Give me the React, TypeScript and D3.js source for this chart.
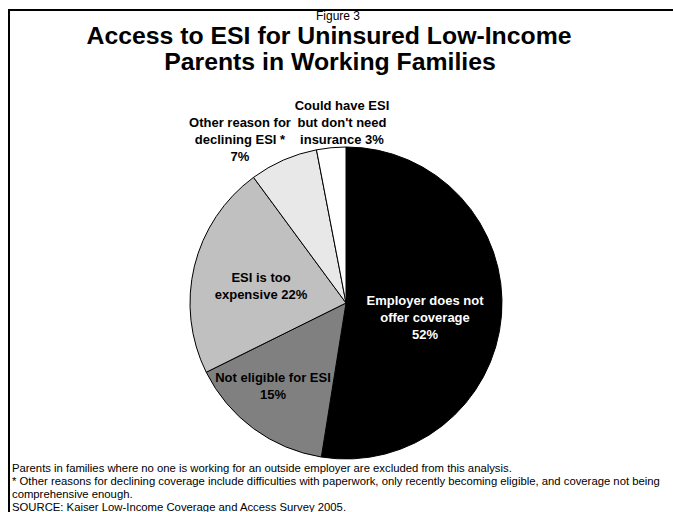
import React from "react";
import * as d3 from "d3";

const categories = [
  "Employer does not offer coverage",
  "Not eligible for ESI",
  "ESI is too expensive",
  "Other reason for declining ESI *",
  "Could have ESI but don't need insurance",
];
const values = [52, 15, 22, 7, 3];
const fills = ["#000000", "#808080", "#c0c0c0", "#e8e8e8", "#ffffff"];
const labelLines = [
  ["Employer does not", "offer coverage", "52%"],
  ["Not eligible for ESI", "15%"],
  ["ESI is too", "expensive 22%"],
  ["Other reason for", "declining ESI *", "7%"],
  ["Could have ESI", "but don't need", "insurance 3%"],
];
const labelColors = ["#ffffff", "#000000", "#000000", "#000000", "#000000"];
// label anchor (center x, first line center y) in px
const labelPos: [number, number][] = [
  [425, 300],
  [273, 377],
  [261, 277],
  [240, 122],
  [342, 105],
];
const footnotes = [
  "Parents in families where no one is working for an outside employer are excluded from this analysis.",
  "* Other reasons for declining coverage include difficulties with paperwork, only recently becoming eligible, and coverage not being",
  "comprehensive enough.",
  "SOURCE: Kaiser Low-Income Coverage and Access Survey 2005.",
];

const W = 673;
const H = 512;
const FONT = "Arial, 'Liberation Sans', Helvetica, sans-serif";

export default function App() {
  const cx = 346;
  const cy = 303;
  const r = 156;
  const pie = d3
    .pie<number>()
    .sort(null)
    .value((d) => d);
  const arcs = pie(values);
  const arc = d3.arc<d3.PieArcDatum<number>>().innerRadius(0).outerRadius(r);
  const lh = 17;

  return (
    <svg
      width={W}
      height={H}
      style={{ position: "absolute", left: 0, top: 0, background: "#fff" }}
      fontFamily={FONT}
    >
      <rect x={0} y={0} width={W} height={H} fill="#fff" />
      <rect x={9} y={10} width={W + 20} height={H + 20} fill="none" stroke="#000" strokeWidth={2} />
      <text x={338} y={20} textAnchor="middle" fontSize={12}>
        Figure 3
      </text>
      <text x={329} y={44} textAnchor="middle" fontSize={24.8} fontWeight="bold">
        Access to ESI for Uninsured Low-Income
      </text>
      <text x={330} y={70} textAnchor="middle" fontSize={24.8} fontWeight="bold">
        Parents in Working Families
      </text>
      <g transform={`translate(${cx},${cy})`}>
        {arcs.map((a, i) => (
          <path key={categories[i]} d={arc(a) || ""} fill={fills[i]} stroke="#000" strokeWidth={1} />
        ))}
      </g>
      {labelLines.map((lines, i) => (
        <text
          key={"l" + i}
          textAnchor="middle"
          fontSize={13}
          fontWeight="bold"
          fill={labelColors[i]}
        >
          {lines.map((ln, j) => (
            <tspan key={j} x={labelPos[i][0]} y={labelPos[i][1] + j * lh} dy="0.35em">
              {ln}
            </tspan>
          ))}
        </text>
      ))}
      {footnotes.map((t, i) => (
        <text key={"f" + i} x={12} y={472 + i * 13} fontSize={11.3}>
          {t}
        </text>
      ))}
    </svg>
  );
}
